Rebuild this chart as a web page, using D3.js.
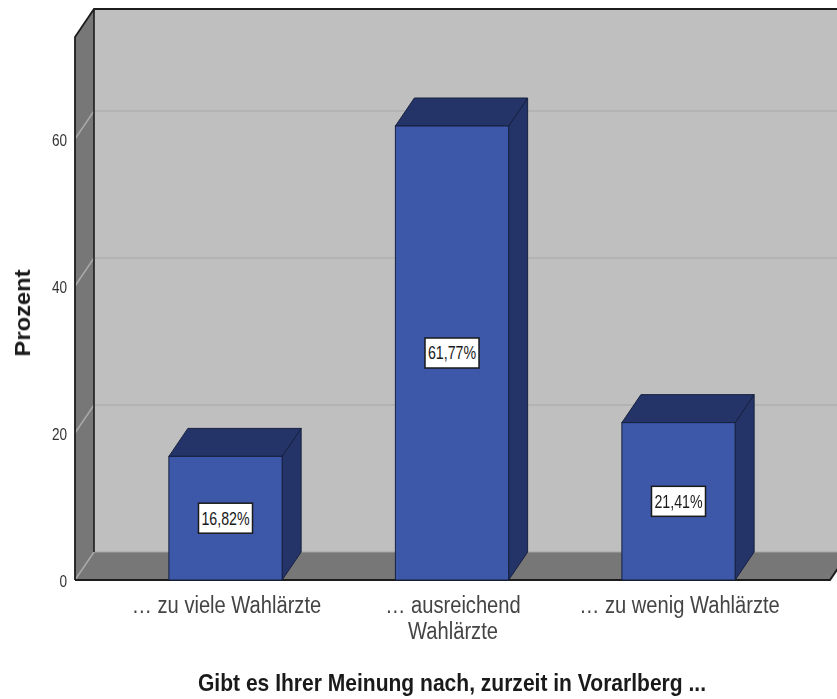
<!DOCTYPE html>
<html><head><meta charset="utf-8">
<script src="https://cdn.jsdelivr.net/npm/d3@7"></script>
<style>
html,body{margin:0;padding:0;background:#fff}
svg{display:block;filter:blur(0.4px)}
text{font-family:"Liberation Sans",Arial,sans-serif;fill:#1a1a1a}
</style></head><body><div id="c"></div>
<script>
const categories = ["zu viele", "ausreichend", "zu wenig"];
const categoryLines = [["… zu viele Wahlärzte"], ["… ausreichend", "Wahlärzte"], ["… zu wenig Wahlärzte"]];
const values = [16.82, 61.77, 21.41];
const valueLabels = ["16,82%", "61,77%", "21,41%"];
const yTicks = [0, 20, 40, 60];
const yTitle = "Prozent";
const xTitle = "Gibt es Ihrer Meinung nach, zurzeit in Vorarlberg ...";

const W = 837, H = 699;
const svg = d3.select("#c").append("svg").attr("width", W).attr("height", H);
const left = 75, right = 830, base = 580, top3d = 37, dx = 19, dy = -28;
const y = d3.scaleLinear().domain([0, 73.88]).range([base, top3d]);
const x = d3.scaleBand().domain(categories).range([112.25, 791.75]).paddingInner(0.5).paddingOuter(0.25);
const poly = pts => d3.line()(pts) + "Z";

// walls
svg.append("path").attr("d", poly([[left+dx, y(73.88)+dy], [right+dx, y(73.88)+dy], [right+dx, base+dy], [left+dx, base+dy]])).attr("fill", "#bfbfbf");
svg.append("path").attr("d", poly([[left, top3d], [left+dx, top3d+dy], [left+dx, base+dy], [left, base]])).attr("fill", "#777");
svg.append("path").attr("d", poly([[left, base], [left+dx, base+dy], [right+dx, base+dy], [right, base]])).attr("fill", "#777");

// gridlines
yTicks.forEach(t => {
  if (t > 0) svg.append("line").attr("x1", left+dx).attr("x2", W).attr("y1", y(t)+dy).attr("y2", y(t)+dy).attr("stroke", "#b3b3b3").attr("stroke-width", 2);
  svg.append("line").attr("x1", left).attr("x2", left+dx).attr("y1", y(t)).attr("y2", y(t)+dy).attr("stroke", "#a9a9a9").attr("stroke-width", 1.5);
});
svg.append("line").attr("x1", left+dx).attr("x2", W).attr("y1", base+dy).attr("y2", base+dy).attr("stroke", "#a5a5a5").attr("stroke-width", 1);

// wall edges
const edge = "#1c1c1c";
svg.append("path").attr("d", d3.line()([[left, base], [left, top3d], [left+dx, top3d+dy], [W, top3d+dy]])).attr("fill", "none").attr("stroke", edge).attr("stroke-width", 1.8);
svg.append("line").attr("x1", left+dx).attr("x2", left+dx).attr("y1", top3d+dy).attr("y2", base+dy).attr("stroke", edge).attr("stroke-width", 1.6);
svg.append("path").attr("d", d3.line()([[left, base], [right, base], [right+dx, base+dy]])).attr("fill", "none").attr("stroke", edge).attr("stroke-width", 2);

// bars
const g = svg.selectAll("g.bar").data(categories).join("g").attr("class", "bar");
const bw = x.bandwidth();
const barStroke = "#16203f";
g.append("path").attr("d", (d, i) => { const a = x(d), t = y(values[i]); return poly([[a+bw, t], [a+bw+dx, t+dy], [a+bw+dx, base+dy], [a+bw, base]]); })
  .attr("fill", "#243468").attr("stroke", barStroke).attr("stroke-width", 1);
g.append("path").attr("d", (d, i) => { const a = x(d), t = y(values[i]); return poly([[a, t], [a+dx, t+dy], [a+bw+dx, t+dy], [a+bw, t]]); })
  .attr("fill", "#243468").attr("stroke", barStroke).attr("stroke-width", 1);
g.append("rect").attr("x", d => x(d)).attr("y", (d, i) => y(values[i])).attr("width", bw).attr("height", (d, i) => base - y(values[i]))
  .attr("fill", "#3d57a9").attr("stroke", barStroke).attr("stroke-width", 1);

// value labels
const lbl = g.append("g").attr("transform", (d, i) => `translate(${x(d)+bw/2},${(y(values[i])+base)/2})`);
lbl.append("rect").attr("x", -27).attr("y", -15).attr("width", 54).attr("height", 30).attr("fill", "#fff").attr("stroke", "#1a1a1a").attr("stroke-width", 1.5);
lbl.append("text").attr("text-anchor", "middle").attr("dy", "0.36em").attr("font-size", 18).attr("transform", "scale(0.79,1)").text((d, i) => valueLabels[i]);

// y axis labels
const axis = svg.append("g").attr("transform", "translate(67,1)").call(d3.axisLeft(y).tickValues(yTicks).tickSize(0).tickPadding(0).tickFormat(d3.format("d")));
axis.select(".domain").remove();
axis.selectAll("text").attr("font-size", 17).attr("font-family", null).attr("transform", "scale(0.8,1)").style("fill", "#333");

// category labels
categories.forEach((c, i) => {
  categoryLines[i].forEach((line, j) => {
    svg.append("text").attr("text-anchor", "middle")
      .attr("transform", `translate(${x(c)+bw/2+1},${613+j*26}) scale(0.875,1)`)
      .attr("font-size", 23).style("fill", "#444").text(line);
  });
});

// titles
svg.append("text").attr("text-anchor", "middle").attr("font-weight", "bold").attr("font-size", 23)
  .attr("transform", "translate(452,691) scale(0.915,1)").text(xTitle);
svg.append("text").attr("text-anchor", "middle").attr("font-weight", "bold").attr("font-size", 22)
  .attr("transform", "translate(30,313) rotate(-90) scale(1.08,1)").text(yTitle);
</script></body></html>
